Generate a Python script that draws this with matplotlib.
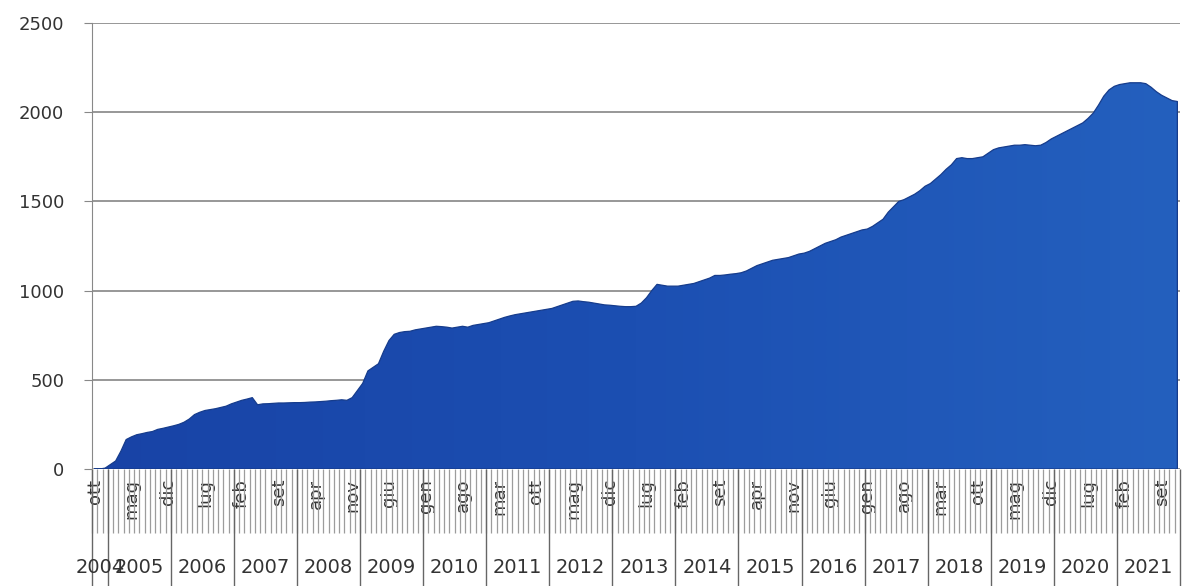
import numpy as np
import matplotlib.pyplot as plt
from matplotlib.colors import LinearSegmentedColormap

# monthly values, Oct 2004 - Dec 2021
v2004 = [0, 0, 5]
v2005 = [25, 45, 100, 165, 180, 192, 198, 205, 210, 222, 228, 235]
v2006 = [242, 250, 262, 280, 305, 318, 328, 333, 338, 345, 352, 365]
v2007 = [375, 385, 392, 400, 360, 365, 366, 368, 370, 370, 371, 372]
v2008 = [372, 373, 375, 376, 378, 380, 383, 385, 388, 385, 400, 440]
v2009 = [480, 550, 570, 590, 660, 720, 755, 765, 770, 772, 780, 785]
v2010 = [790, 795, 800, 798, 795, 790, 795, 800, 795, 805, 810, 815]
v2011 = [820, 830, 840, 850, 858, 865, 870, 875, 880, 885, 890, 895]
v2012 = [900, 910, 920, 930, 940, 942, 938, 935, 930, 925, 920, 918]
v2013 = [915, 912, 910, 910, 912, 930, 960, 1000, 1035, 1030, 1025, 1025]
v2014 = [1025, 1030, 1035, 1040, 1050, 1060, 1070, 1085, 1085, 1088, 1092, 1095]
v2015 = [1100, 1110, 1125, 1140, 1150, 1160, 1170, 1175, 1180, 1185, 1195, 1205]
v2016 = [1210, 1220, 1235, 1250, 1265, 1275, 1285, 1300, 1310, 1320, 1330, 1340]
v2017 = [1345, 1360, 1380, 1400, 1440, 1470, 1500, 1510, 1525, 1540, 1560, 1585]
v2018 = [1600, 1625, 1650, 1680, 1705, 1740, 1745, 1740, 1740, 1745, 1750, 1770]
v2019 = [1790, 1800, 1805, 1810, 1815, 1815, 1818, 1815, 1812, 1815, 1830, 1850]
v2020 = [1865, 1880, 1895, 1910, 1925, 1940, 1965, 1995, 2040, 2090, 2125, 2145]
v2021 = [2155, 2160, 2165, 2165, 2165, 2160, 2140, 2115, 2095, 2080, 2065, 2060]

years = ['2004', '2005', '2006', '2007', '2008', '2009', '2010', '2011', '2012',
         '2013', '2014', '2015', '2016', '2017', '2018', '2019', '2020', '2021']

# every 7th month gets a label
month_labels = ['ott', 'mag', 'dic', 'lug', 'feb', 'set', 'apr', 'nov', 'giu', 'gen',
                'ago', 'mar', 'ott', 'mag', 'dic', 'lug', 'feb', 'set', 'apr', 'nov',
                'giu', 'gen', 'ago', 'mar', 'ott', 'mag', 'dic', 'lug', 'feb', 'set']

per_year = [v2004, v2005, v2006, v2007, v2008, v2009, v2010, v2011, v2012,
            v2013, v2014, v2015, v2016, v2017, v2018, v2019, v2020, v2021]
values = np.concatenate(per_year)
x = np.arange(len(values))

fig = plt.figure(figsize=(11.85, 5.86), dpi=100)
ax = fig.add_axes([92 / 1185, 1 - 469 / 586, 1088 / 1185, 446 / 586])

ax.set_xlim(-0.5, len(values) - 0.5)
ax.set_ylim(0, 2500)

# area, filled with a slight left-to-right blue gradient
area = ax.fill_between(x, values, facecolor='none', edgecolor='#163c8c', linewidth=0.9, zorder=3)
cmap = LinearSegmentedColormap.from_list('blu', ['#1843a6', '#1c4fb2', '#2460be'])
grad = ax.imshow(np.linspace(0, 1, 256).reshape(1, -1), cmap=cmap, aspect='auto',
                 extent=[-0.5, len(values) - 0.5, 0, 2500], zorder=2, interpolation='bicubic')
grad.set_clip_path(area.get_paths()[0], transform=ax.transData)

ax.set_yticks(np.arange(0, 2501, 500))
ax.yaxis.grid(True, color='#858585', linewidth=1.2)
ax.set_axisbelow(True)
ax.tick_params(axis='y', length=6, color='#888888', labelsize=13, labelcolor='#333333', pad=14)

for s in ['top', 'right', 'bottom']:
    ax.spines[s].set_visible(False)
ax.spines['left'].set_color('#888888')

# month ticks: a light line between every month, names every 7 months
ax.set_xticks(x[::7], month_labels, rotation=90, va='top', fontsize=13, color='#333333')
ax.set_xticks(x - 0.5, minor=True)
ax.tick_params(axis='x', which='major', length=0, pad=7)
ax.tick_params(axis='x', which='minor', length=46, color='#9c9c9c', width=0.9)

# year row with separators
bounds = np.cumsum([0] + [len(v) for v in per_year]) - 0.5
ax.vlines(bounds, -0.265, 0, transform=ax.get_xaxis_transform(), colors='#666666',
          linewidth=1.0, clip_on=False)
mids = (bounds[:-1] + bounds[1:]) / 2
for m, yr in zip(mids, years):
    ax.text(m, -0.22, yr, transform=ax.get_xaxis_transform(), ha='center', va='center',
            fontsize=14, color='#333333')

fig.savefig('out.png', dpi=100)
